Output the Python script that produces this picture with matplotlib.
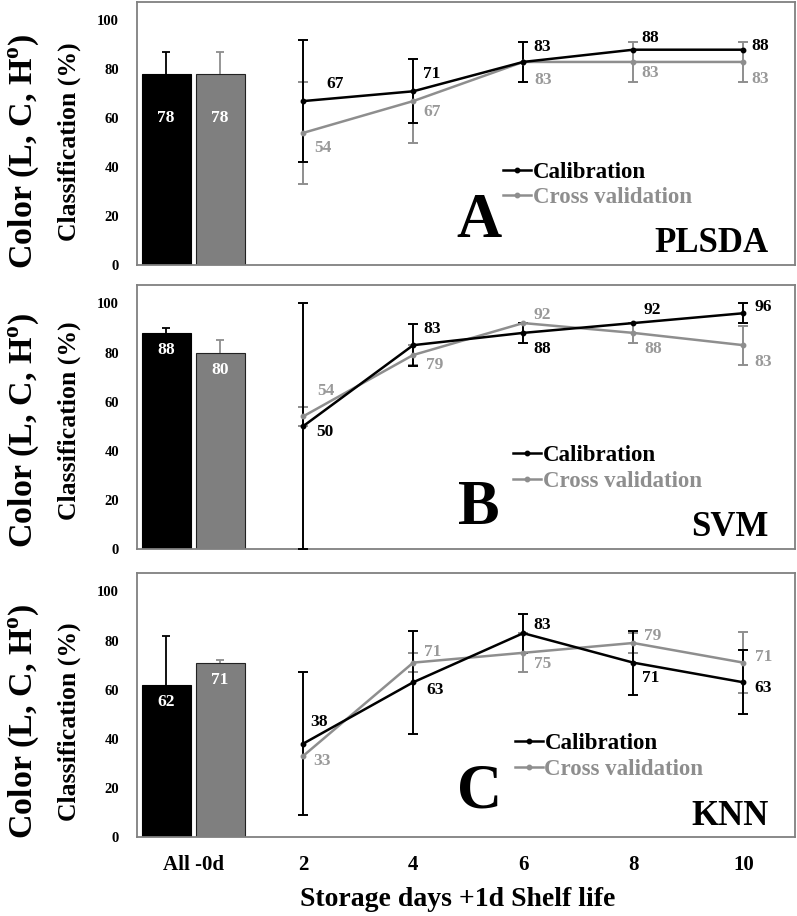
import numpy as np
import matplotlib
matplotlib.use("Agg")
import matplotlib.pyplot as plt

plt.rcParams['font.family'] = ['Liberation Serif', 'DejaVu Serif']
plt.rcParams['font.weight'] = 'bold'
plt.rcParams['mathtext.fontset'] = 'custom'
plt.rcParams['mathtext.rm'] = 'Liberation Serif:bold'
plt.rcParams['mathtext.bf'] = 'Liberation Serif:bold'

# ---------------- data ----------------
xtick_labels = ["All -0d", "2", "4", "6", "8", "10"]
days = ["2", "4", "6", "8", "10"]
methods = ["PLSDA", "SVM", "KNN"]
panel_letters = ["A", "B", "C"]
series_names = ["Calibration", "Cross validation"]

# bars (All -0d): calibration, cross validation
bar_cal = [78, 88, 62]
bar_cv = [78, 80, 71]
bar_cal_err = [9, 2, 20]
bar_cv_err = [9, 5, 1]

# lines per day
cal_A = [67, 71, 83, 88, 88]
cv_A = [54, 67, 83, 83, 83]
cal_A_err = [25, 13, 8, 0, 0]
cv_A_err = [21, 17, 8, 8, 8]

cal_B = [50, 83, 88, 92, 96]
cv_B = [54, 79, 92, 88, 83]
cal_B_err = [50, 8.5, 4, 0, 4]
cv_B_err = [4, 4, 0, 4, 8]

cal_C = [38, 63, 83, 71, 63]
cv_C = [33, 71, 75, 79, 71]
cal_C_err = [29, 21, 8, 13, 13]
cv_C_err = [0, 4, 8, 4, 12.5]

cal_all = [cal_A, cal_B, cal_C]
cv_all = [cv_A, cv_B, cv_C]
cal_err_all = [cal_A_err, cal_B_err, cal_C_err]
cv_err_all = [cv_A_err, cv_B_err, cv_C_err]

# label offsets (pixels) for the value annotations
cal_offsets = [
    [(32, 17), (19, 17), (19, 15), (17, 12), (17, 4)],
    [(22, -6), (19, 16), (19, -16), (19, 13), (20, 6)],
    [(16, 22), (22, -8), (19, 8), (17, -15), (20, -6)],
]
cv_offsets = [
    [(20, -15), (19, -11), (20, -18), (17, -11), (17, -17)],
    [(23, 25), (22, -10), (19, 8), (20, -16), (20, -17)],
    [(19, -5), (20, 11), (19, -11), (19, 7), (20, 6)],
]
bar_label_drop = [18, 7, 7]

BLACK = "#000000"
GRAY_BAR = "#7f7f7f"
GRAY_LINE = "#8e8e8e"
GRAY_TXT = "#999999"
SPINE = "#808080"

fig = plt.figure(figsize=(7.97, 9.16), dpi=100)
W, H = 797, 916
axes_px = [(2, 265), (285, 549), (573, 837)]
left_px, right_px = 137, 795

x_line = np.arange(1, 6)
bw = 0.445


def bar_err(ax, x, y, e, color):
    _, caps, _ = ax.errorbar([x], [y], yerr=[[0], [e]], fmt='none', ecolor=color,
                             elinewidth=1.3, capsize=3, capthick=1.3, zorder=3)
    if len(caps) > 0:
        caps[0].set_visible(False)


for i in range(3):
    top, bot = axes_px[i]
    ax = fig.add_axes([left_px / W, 1 - bot / H, (right_px - left_px) / W, (bot - top) / H])
    ax.set_xlim(-0.51, 5.47)
    ax.set_ylim(0, 107.5)
    for s in ax.spines.values():
        s.set_color(SPINE)
        s.set_linewidth(1.3)
    ax.set_yticks([0, 20, 40, 60, 80, 100])
    ax.tick_params(axis='y', length=0, pad=13, labelsize=10.5)
    ax.tick_params(axis='x', length=0, pad=13, labelsize=15)
    for t in ax.get_yticklabels():
        t.set_fontweight('bold')
    ax.set_xticks(range(6))
    if i == 2:
        ax.set_xticklabels(xtick_labels, fontweight='bold')
    else:
        ax.set_xticklabels([])

    # bars
    ax.bar([-0.245], [bar_cal[i]], width=bw, color=BLACK, edgecolor=BLACK, linewidth=0.8, zorder=2)
    ax.bar([0.245], [bar_cv[i]], width=bw, color=GRAY_BAR, edgecolor="#222222", linewidth=0.8, zorder=2)
    bar_err(ax, -0.245, bar_cal[i], bar_cal_err[i], BLACK)
    bar_err(ax, 0.245, bar_cv[i], bar_cv_err[i], GRAY_LINE)
    ax.text(-0.245, bar_cal[i] - bar_label_drop[i], str(bar_cal[i]), color='white',
            ha='center', va='center', fontsize=12.5, fontweight='bold', zorder=4)
    ax.text(0.245, bar_cv[i] - bar_label_drop[i], str(bar_cv[i]), color='white',
            ha='center', va='center', fontsize=12.5, fontweight='bold', zorder=4)

    cal = np.array(cal_all[i], float)
    cv = np.array(cv_all[i], float)
    ce = np.array(cal_err_all[i], float)
    ve = np.array(cv_err_all[i], float)

    # error bars
    m = ve > 0
    ax.errorbar(x_line[m], cv[m], yerr=ve[m], fmt='none', ecolor=GRAY_LINE,
                elinewidth=1.4, capsize=3.5, capthick=1.4, zorder=3)
    m = ce > 0
    ax.errorbar(x_line[m], cal[m], yerr=ce[m], fmt='none', ecolor=BLACK,
                elinewidth=1.4, capsize=3.5, capthick=1.4, zorder=4)

    l_cv, = ax.plot(x_line, cv, color=GRAY_LINE, lw=1.8, marker='o', ms=3.2, zorder=5,
                    label=series_names[1])
    l_cal, = ax.plot(x_line, cal, color=BLACK, lw=1.8, marker='o', ms=3.2, zorder=6,
                     label=series_names[0])

    for j in range(5):
        dx, dy = cal_offsets[i][j]
        ax.annotate(f"{int(round(cal[j]))}", (x_line[j], cal[j]), xytext=(dx, dy),
                    textcoords='offset pixels', ha='center', va='center',
                    fontsize=12.5, fontweight='bold', color=BLACK, zorder=7)
        dx, dy = cv_offsets[i][j]
        ax.annotate(f"{int(round(cv[j]))}", (x_line[j], cv[j]), xytext=(dx, dy),
                    textcoords='offset pixels', ha='center', va='center',
                    fontsize=12.5, fontweight='bold', color=GRAY_TXT, zorder=7)

    leg_x = [0.556, 0.571, 0.574][i]
    leg = ax.legend(handles=[l_cal, l_cv], loc='center left', bbox_to_anchor=(leg_x, 0.305),
                    frameon=False, prop={'size': 16.5, 'weight': 'bold'}, handlelength=1.25,
                    handletextpad=0.05, borderpad=0, borderaxespad=0, labelspacing=0.18,
                    labelcolor=[BLACK, GRAY_LINE])

    # panel letter & method name
    ax.text(2.6, [17.5, 16.3, 18][i], panel_letters[i], fontsize=45, fontweight='bold',
            ha='center', va='center')
    ax.text(5.23, [8.8, 8.6, 8.2][i], methods[i], fontsize=25, fontweight='bold',
            ha='right', va='center')

    # y labels
    ymid_color = [151, 430, 721][i]
    ymid_class = [142, 421, 722][i]
    fig.text(24 / W, 1 - ymid_color / H, "Color (L, C, H$^{\\mathrm{o}}$)", rotation=90,
             fontsize=24.5, fontweight='bold', ha='center', va='center')
    fig.text(69 / W, 1 - ymid_class / H, "Classification (%)", rotation=90,
             fontsize=18.5, fontweight='bold', ha='center', va='center')

fig.text(458 / W, 1 - 900 / H, "Storage days +1d Shelf life", fontsize=20,
         fontweight='bold', ha='center', va='center')

fig.savefig("out.png", dpi=100)
